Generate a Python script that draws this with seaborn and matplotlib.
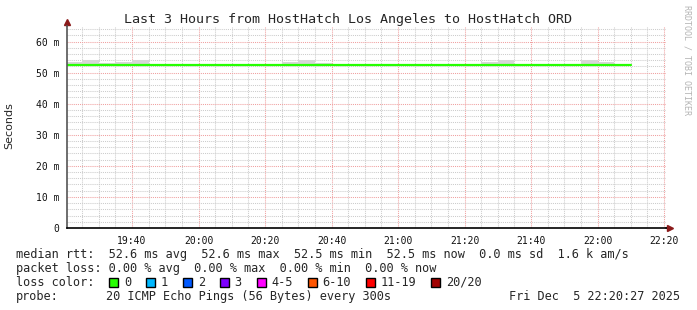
import matplotlib
matplotlib.use("Agg")
import matplotlib.pyplot as plt
import matplotlib.dates as mdates
from matplotlib.ticker import MultipleLocator, FuncFormatter
from matplotlib.patches import Rectangle
import pandas as pd
import seaborn as sns

sns.set_style("white")
plt.rcParams["font.family"] = ["DejaVu Sans Mono"]

# 5-minute samples from 19:20 to 22:05, each value holds for 5 minutes
sample_times = pd.date_range("2025-12-05 19:20", "2025-12-05 22:05", freq="5min")
median_ms = [52.5, 52.5, 52.6, 52.6, 52.5, 52.5, 52.5, 52.5, 52.5, 52.5,
             52.5, 52.5, 52.5, 52.5, 52.5, 52.6, 52.6, 52.5, 52.5, 52.5,
             52.5, 52.5, 52.6, 52.5, 52.5, 52.5, 52.5, 52.5, 52.5, 52.6,
             52.6, 52.5, 52.5, 52.5]
smoke_low_ms = [52.3] * 34
smoke_high_ms = [53.4, 53.9, 53.2, 53.3, 53.9, 52.9, 52.9, 52.9, 52.9, 52.9,
                 52.9, 52.9, 52.9, 53.5, 54.2, 53.1, 52.9, 52.9, 52.9, 52.9,
                 52.9, 52.9, 52.9, 52.9, 52.9, 53.5, 54.0, 52.9, 52.9, 52.9,
                 52.9, 54.1, 53.5, 52.9]
data_end = pd.Timestamp("2025-12-05 22:10")

window_start = pd.Timestamp("2025-12-05 19:20:27")
window_end = pd.Timestamp("2025-12-05 22:20:27")

title = "Last 3 Hours from HostHatch Los Angeles to HostHatch ORD"
legend_lines = [
    "median rtt:  52.6 ms avg  52.6 ms max  52.5 ms min  52.5 ms now  0.0 ms sd  1.6 k am/s",
    "packet loss: 0.00 % avg  0.00 % max  0.00 % min  0.00 % now",
]
loss_labels = ["0", "1", "2", "3", "4-5", "6-10", "11-19", "20/20"]
loss_colors = ["#26ff00", "#00b8ff", "#0059ff", "#7e00ff",
               "#ff00ff", "#ff5500", "#ff0000", "#a10000"]
probe_text = "20 ICMP Echo Pings (56 Bytes) every 300s"
stamp_text = "Fri Dec  5 22:20:27 2025"

W, H = 697, 310
fig = plt.figure(figsize=(W / 100, H / 100), dpi=100)
fig.patch.set_facecolor("white")
ax = fig.add_axes([67 / W, (H - 228) / H, 598.5 / W, 202 / H])

times_ext = list(sample_times) + [data_end]
ax.fill_between(times_ext, smoke_low_ms + [smoke_low_ms[-1]],
                smoke_high_ms + [smoke_high_ms[-1]],
                step="post", color="#d6d6d6", linewidth=0)
sns.lineplot(x=times_ext, y=median_ms + [median_ms[-1]], ax=ax,
             drawstyle="steps-post", color=loss_colors[0], linewidth=1.6)

ax.set_xlim(window_start, window_end)
ax.set_ylim(0, 65)
ax.xaxis.set_major_locator(mdates.MinuteLocator(byminute=[0, 20, 40]))
ax.xaxis.set_minor_locator(mdates.MinuteLocator(byminute=range(0, 60, 5)))
ax.xaxis.set_major_formatter(mdates.DateFormatter("%H:%M"))
ax.yaxis.set_major_locator(MultipleLocator(10))
ax.yaxis.set_minor_locator(MultipleLocator(2))
ax.yaxis.set_major_formatter(FuncFormatter(lambda v, p: "0" if v == 0 else f"{v:.0f} m"))

ax.grid(which="minor", color="#cccccc", linestyle=(0, (1, 1)), linewidth=0.75)
ax.grid(which="major", color="#f0a0a0", linestyle=(0, (1, 1)), linewidth=0.75)
ax.set_axisbelow(True)
ax.tick_params(which="major", length=2.2, width=0.75, color="#f0a0a0",
               labelsize=7, pad=3.2, labelcolor="#111111")
ax.tick_params(which="minor", length=1.5, width=0.75, color="#cccccc")
ax.set_xlabel("")
ax.set_ylabel("")

for side in ["top", "right"]:
    ax.spines[side].set_visible(False)
ax.spines["bottom"].set_color("black")
ax.spines["bottom"].set_linewidth(1.2)
ax.spines["left"].set_color("#555555")
ax.spines["left"].set_linewidth(1.2)

# axis arrows
ax.plot([1.0, 1.006], [0, 0], color="black", lw=1.2, transform=ax.transAxes, clip_on=False)
ax.plot([1.007], [0], marker=">", color="#8b1a1a", markersize=4.5,
        transform=ax.transAxes, clip_on=False)
ax.plot([0, 0], [1.0, 1.01], color="#555555", lw=1.2, transform=ax.transAxes, clip_on=False)
ax.plot([0], [1.02], marker="^", color="#8b1a1a", markersize=4.5,
        transform=ax.transAxes, clip_on=False)

fig.text(348.5 / W, 1 - 19.3 / H, title, ha="center", va="center", fontsize=9.6)
fig.text(9 / W, 1 - 126 / H, "Seconds", rotation=90, ha="center", va="center",
         fontsize=8, family=["DejaVu Sans"])
fig.text(687 / W, 1 - 60 / H, "RRDTOOL / TOBI OETIKER", rotation=270,
         ha="center", va="center", fontsize=6, color="#b4b4b4")

rows_y = [254.3, 268.3, 282.3, 296.2]
for text, y in zip(legend_lines, rows_y):
    fig.text(15.5 / W, 1 - y / H, text, ha="left", va="center", fontsize=8.55)

fig.text(15.5 / W, 1 - rows_y[2] / H, "loss color:", ha="left", va="center", fontsize=8.55)
x = 109.0
for label, color in zip(loss_labels, loss_colors):
    fig.add_artist(Rectangle((x / W, (H - rows_y[2] - 4.5) / H), 9 / W, 9 / H,
                             transform=fig.transFigure, facecolor=color,
                             edgecolor="black", linewidth=1.0))
    fig.text((x + 15) / W, 1 - rows_y[2] / H, label, ha="left", va="center", fontsize=8.55)
    x += 15.5 + 7.13 * (len(label) + 2)

fig.text(15.5 / W, 1 - rows_y[3] / H, "probe:", ha="left", va="center", fontsize=8.55)
fig.text(106 / W, 1 - rows_y[3] / H, probe_text, ha="left", va="center", fontsize=8.55)
fig.text(680 / W, 1 - rows_y[3] / H, stamp_text, ha="right", va="center", fontsize=8.55)

fig.savefig("out.png", dpi=100)
plt.close(fig)
